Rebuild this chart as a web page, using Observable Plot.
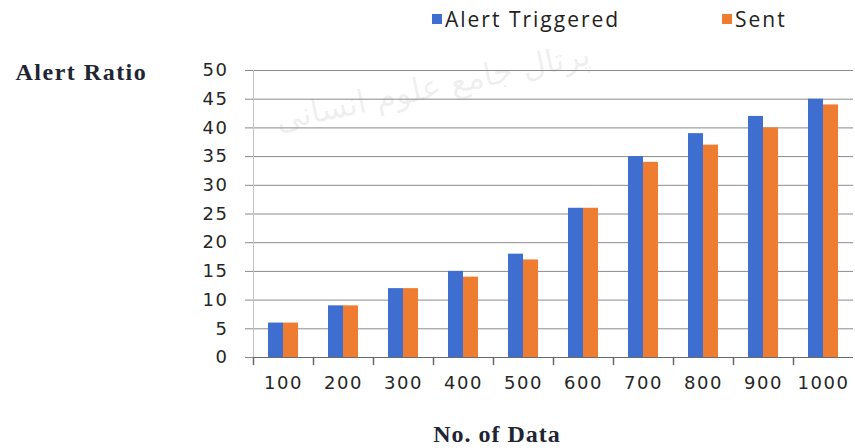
<!DOCTYPE html>
<html><head><meta charset="utf-8">
<script src="https://cdn.jsdelivr.net/npm/d3@7"></script>
<script src="https://cdn.jsdelivr.net/npm/@observablehq/plot@0.6"></script>
<style>
body{margin:0;background:#fff;width:855px;height:448px;overflow:hidden;position:relative}
#legend{height:45px;position:relative}
.item{position:absolute;top:5px;font:21px "Open Sans";letter-spacing:2px;color:#222;display:flex;align-items:center;white-space:nowrap}
.sw{width:10px;height:10px;margin-right:3px;display:inline-block}
#caption{height:45px;position:relative}
#caption div{position:absolute;left:0;width:994px;text-align:center;top:18px;font:bold 24px "Liberation Serif";letter-spacing:1px;color:#1e2533}
</style></head><body>
<div id="legend"></div>
<div id="chart"></div>
<div id="caption"></div>
<script>
const categories = [100, 200, 300, 400, 500, 600, 700, 800, 900, 1000];
const series = ["Alert Triggered", "Sent"];
const alertTriggered = [6, 9, 12, 15, 18, 26, 35, 39, 42, 45];
const sent = [6, 9, 12, 14, 17, 26, 34, 37, 40, 44];
const yTicks = [0, 5, 10, 15, 20, 25, 30, 35, 40, 45, 50];
const colors = ["#3e6fd0", "#ee7d31"];
const yTitle = "Alert Ratio";
const xTitle = "No. of Data";
const watermark = "پرتال جامع علوم انسانی";

const data = categories.flatMap((c, i) => [
  {cat: c, series: series[0], value: alertTriggered[i]},
  {cat: c, series: series[1], value: sent[i]}
]);

// legend
const legend = document.getElementById("legend");
const legendX = [432, 722];
series.forEach((s, i) => {
  const d = document.createElement("div");
  d.className = "item";
  d.style.left = legendX[i] + "px";
  d.innerHTML = `<span class="sw" style="background:${colors[i]}"></span>${s}`;
  legend.appendChild(d);
});

const tickShape = {draw(ctx, l) { ctx.moveTo(0, 0); ctx.lineTo(0, -l); }};

const chart = Plot.plot({
  width: 855, height: 358,
  marginTop: 25, marginBottom: 46, marginLeft: 250, marginRight: 0,
  style: {fontFamily: "DejaVu Sans", fontSize: "18px", color: "#262626", letterSpacing: "1.5px", background: "transparent"},
  fx: {domain: categories, padding: 0, label: null},
  x: {domain: series, paddingInner: 0, paddingOuter: 0.89, axis: null},
  y: {domain: [0, 50], label: null},
  color: {domain: series, range: colors},
  marks: [
    Plot.text([watermark], {facet: "super", frameAnchor: "top-left", text: d => d, dx: 20, dy: 38, rotate: -12, fontSize: 32, fill: "#000", fillOpacity: 0.08, letterSpacing: "0px"}),
    Plot.gridY(yTicks, {stroke: "#8a8a8a", strokeOpacity: 1}),
    Plot.frame({anchor: "left", facet: "super", stroke: "#c4c4c4"}),
    Plot.barY(data, {fx: "cat", x: "series", y: "value", fill: "series"}),
    Plot.ruleY([0], {stroke: "#6a6a6a"}),
    Plot.vector(categories, {fx: d => d, frameAnchor: "bottom-left", length: 7, rotate: 180, anchor: "start", shape: tickShape, stroke: "#6a6a6a"}),
    Plot.axisY(yTicks, {tickSize: 8, tickPadding: 17, label: null, stroke: "#8a8a8a", fontSize: 18, tickFormat: d => String(d)}),
    Plot.axisFx({anchor: "bottom", tickSize: 0, tickPadding: 19, label: null, fontSize: 18, tickFormat: d => String(d)}),
    Plot.text([yTitle], {facet: "super", frameAnchor: "top-left", text: d => d, dx: -238, dy: -8, textAnchor: "start", fontFamily: "Liberation Serif", fontWeight: "bold", fontSize: 24, fill: "#1e2533", letterSpacing: "2px"})
  ]
});
document.getElementById("chart").appendChild(chart);
document.getElementById("caption").innerHTML = `<div>${xTitle}</div>`;
</script>
</body></html>
